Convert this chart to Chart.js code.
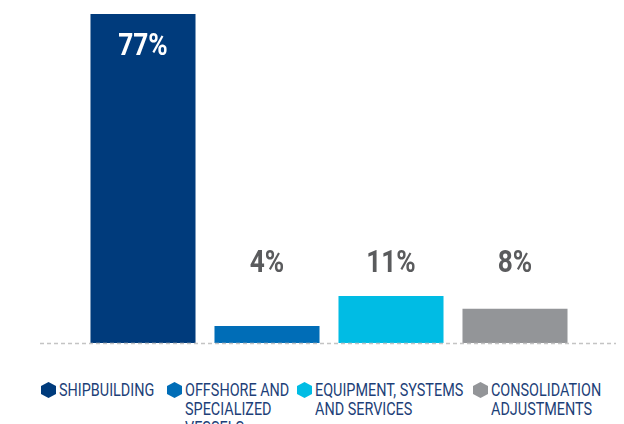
<!DOCTYPE html>
<html>
<head>
<meta charset="utf-8">
<script src="https://cdn.jsdelivr.net/npm/chart.js@4.4.1/dist/chart.umd.min.js"></script>
<style>
  html, body { margin: 0; padding: 0; background: #fff; overflow: hidden; }
  #wrap { position: relative; width: 624px; height: 424px; }
  #chartBox { position: absolute; left: 0; top: 0; width: 624px; height: 360px; }
  #legend { position: absolute; left: 0; top: 380px; width: 624px; height: 60px;
    font-family: Roboto, "Liberation Sans", sans-serif;
    font-size: 18px; line-height: 19px; color: #1d3f78; }
  .item { position: absolute; top: 0; display: flex; align-items: flex-start; }
  .hex { width: 15px; height: 16px; margin-top: 2px; margin-right: 3px; flex: none;
    clip-path: polygon(50% 0, 100% 25%, 100% 75%, 50% 100%, 0 75%, 0 25%); }
  .txt { transform: scaleX(0.8); transform-origin: 0 0; white-space: normal; }
</style>
</head>
<body>
<div id="wrap">
  <div id="chartBox"><canvas id="chart"></canvas></div>
  <div id="legend"></div>
</div>
<script>
  // Data
  const categories = ['SHIPBUILDING', 'OFFSHORE AND SPECIALIZED VESSELS', 'EQUIPMENT, SYSTEMS AND SERVICES', 'CONSOLIDATION ADJUSTMENTS'];
  const shares = [77, 4, 11, 8];
  const barColors = ['#003b7c', '#006db7', '#00bce4', '#939598'];

  // Legend layout (left edge and unscaled text width of each item)
  const legendLeft = [41, 167, 297, 473];
  const legendTextWidth = [130, 135, 200, 150];

  // Dashed baseline + percentage labels
  const labelPlugin = {
    id: 'labels',
    afterDatasetsDraw(chart) {
      const ctx = chart.ctx;
      const y = chart.scales.y;
      const base = y.getPixelForValue(0);
      ctx.save();
      ctx.strokeStyle = '#c4c4c4';
      ctx.lineWidth = 1.5;
      ctx.setLineDash([4, 3]);
      ctx.beginPath();
      ctx.moveTo(40, base + 0.5);
      ctx.lineTo(616, base + 0.5);
      ctx.stroke();
      ctx.setLineDash([]);

      ctx.font = 'bold 32px Roboto, "Liberation Sans", sans-serif';
      ctx.textAlign = 'center';
      ctx.textBaseline = 'middle';
      const meta = chart.getDatasetMeta(0);
      meta.data.forEach((bar, i) => {
        const ty = i === 0 ? bar.y + 33 : base - 79;
        ctx.save();
        ctx.translate(bar.x, ty);
        ctx.scale(0.82, 1);
        ctx.fillStyle = i === 0 ? '#ffffff' : '#5a5b5d';
        ctx.fillText(shares[i] + '%', 0, 0);
        ctx.restore();
      });
      ctx.restore();
    }
  };

  new Chart(document.getElementById('chart'), {
    type: 'bar',
    data: {
      labels: categories,
      datasets: [{
        data: shares,
        backgroundColor: barColors,
        borderWidth: 0,
        categoryPercentage: 1,
        barPercentage: 0.847
      }]
    },
    options: {
      responsive: true,
      maintainAspectRatio: false,
      animation: false,
      layout: { padding: { left: 81, right: 47, top: 14, bottom: 17 } },
      plugins: {
        legend: { display: false },
        tooltip: { enabled: false }
      },
      scales: {
        x: { display: false },
        y: { display: false, min: 0, max: 77 }
      }
    },
    plugins: [labelPlugin]
  });

  // HTML legend with hexagon markers
  const legend = document.getElementById('legend');
  categories.forEach((name, i) => {
    const item = document.createElement('div');
    item.className = 'item';
    item.style.left = legendLeft[i] + 'px';
    item.innerHTML = '<div class="hex" style="background:' + barColors[i] + '"></div>' +
      '<div class="txt" style="width:' + legendTextWidth[i] + 'px">' + name + '</div>';
    legend.appendChild(item);
  });
</script>
</body>
</html>
